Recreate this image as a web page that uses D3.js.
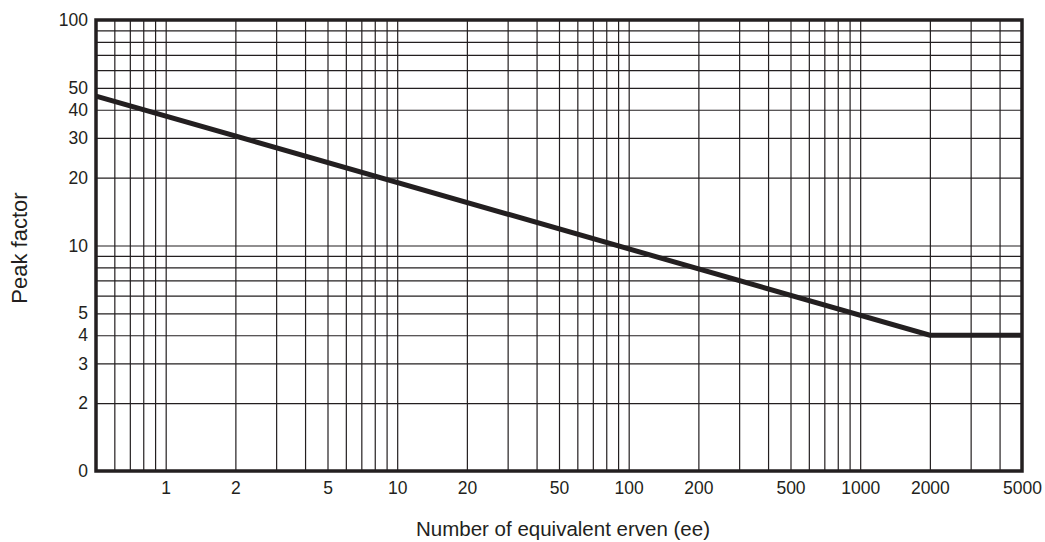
<!DOCTYPE html>
<html>
<head>
<meta charset="utf-8">
<script src="https://cdn.jsdelivr.net/npm/d3@7"></script>
<style>
  body { margin: 0; background: #fff; }
  svg { display: block; font-family: "Liberation Sans", Arial, sans-serif; }
  .tick text { fill: #231f20; font-size: 17.5px; }
  .grid line { stroke: #231f20; stroke-width: 1.2; }
  .domain { display: none; }
</style>
</head>
<body>
<svg width="1045" height="542"></svg>
<script>
// x/y extents of the log-log chart
const xDomain = [0.5, 5000]
const yDomain = [1, 100]

// tick labels shown on each axis
const xLabels = [1, 2, 5, 10, 20, 50, 100, 200, 500, 1000, 2000, 5000]
const yLabels = [1, 2, 3, 4, 5, 10, 20, 30, 40, 50, 100]

// gridlines (every 1..9 of each decade)
const xGrid = [0.6, 0.7, 0.8, 0.9, 1, 2, 3, 4, 5, 6, 7, 8, 9, 10, 20, 30, 40, 50, 60, 70, 80, 90,
  100, 200, 300, 400, 500, 600, 700, 800, 900, 1000, 2000, 3000, 4000]
const yGrid = [2, 3, 4, 5, 6, 7, 8, 9, 10, 20, 30, 40, 50, 60, 70, 80, 90]

// peak factor curve
const ee = [0.5, 2000, 5000]
const peak = [46, 4, 4]

const svg = d3.select('svg')
const margin = { top: 20, right: 23, bottom: 71, left: 96 }
const width = 1045 - margin.left - margin.right
const height = 542 - margin.top - margin.bottom

const x = d3.scaleLog().domain(xDomain).range([0, width])
const y = d3.scaleLog().domain(yDomain).range([height, 0])

const g = svg.append('g').attr('transform', `translate(${margin.left},${margin.top})`)

// grid
g.append('g')
  .attr('class', 'grid')
  .attr('transform', `translate(0,${height})`)
  .call(d3.axisBottom(x).tickValues(xGrid).tickSize(-height).tickFormat(''))
g.append('g')
  .attr('class', 'grid')
  .call(d3.axisLeft(y).tickValues(yGrid).tickSize(-width).tickFormat(''))

// labels
g.append('g')
  .attr('transform', `translate(0,${height})`)
  .call(d3.axisBottom(x).tickValues(xLabels).tickSize(0).tickPadding(10.5).tickFormat(d3.format('d')))
g.append('g')
  .call(d3.axisLeft(y).tickValues(yLabels).tickSize(0).tickPadding(8)
    .tickFormat(d => d === 1 ? '0' : d3.format('d')(d)))

// curve
const line = d3.line()
  .x(i => x(ee[i]))
  .y(i => y(peak[i]))
g.append('path')
  .datum(d3.range(ee.length))
  .attr('d', line)
  .attr('fill', 'none')
  .attr('stroke', '#231f20')
  .attr('stroke-width', 5)
  .attr('stroke-linejoin', 'miter')

// frame
g.append('rect')
  .attr('width', width)
  .attr('height', height)
  .attr('fill', 'none')
  .attr('stroke', '#231f20')
  .attr('stroke-width', 3.5)

// axis titles
svg.append('text')
  .attr('x', 563)
  .attr('y', 536)
  .attr('text-anchor', 'middle')
  .attr('fill', '#231f20')
  .style('font-size', '20.5px')
  .text('Number of equivalent erven (ee)')
svg.append('text')
  .attr('transform', 'translate(27,248) rotate(-90)')
  .attr('text-anchor', 'middle')
  .attr('fill', '#231f20')
  .style('font-size', '22px')
  .text('Peak factor')
</script>
</body>
</html>
